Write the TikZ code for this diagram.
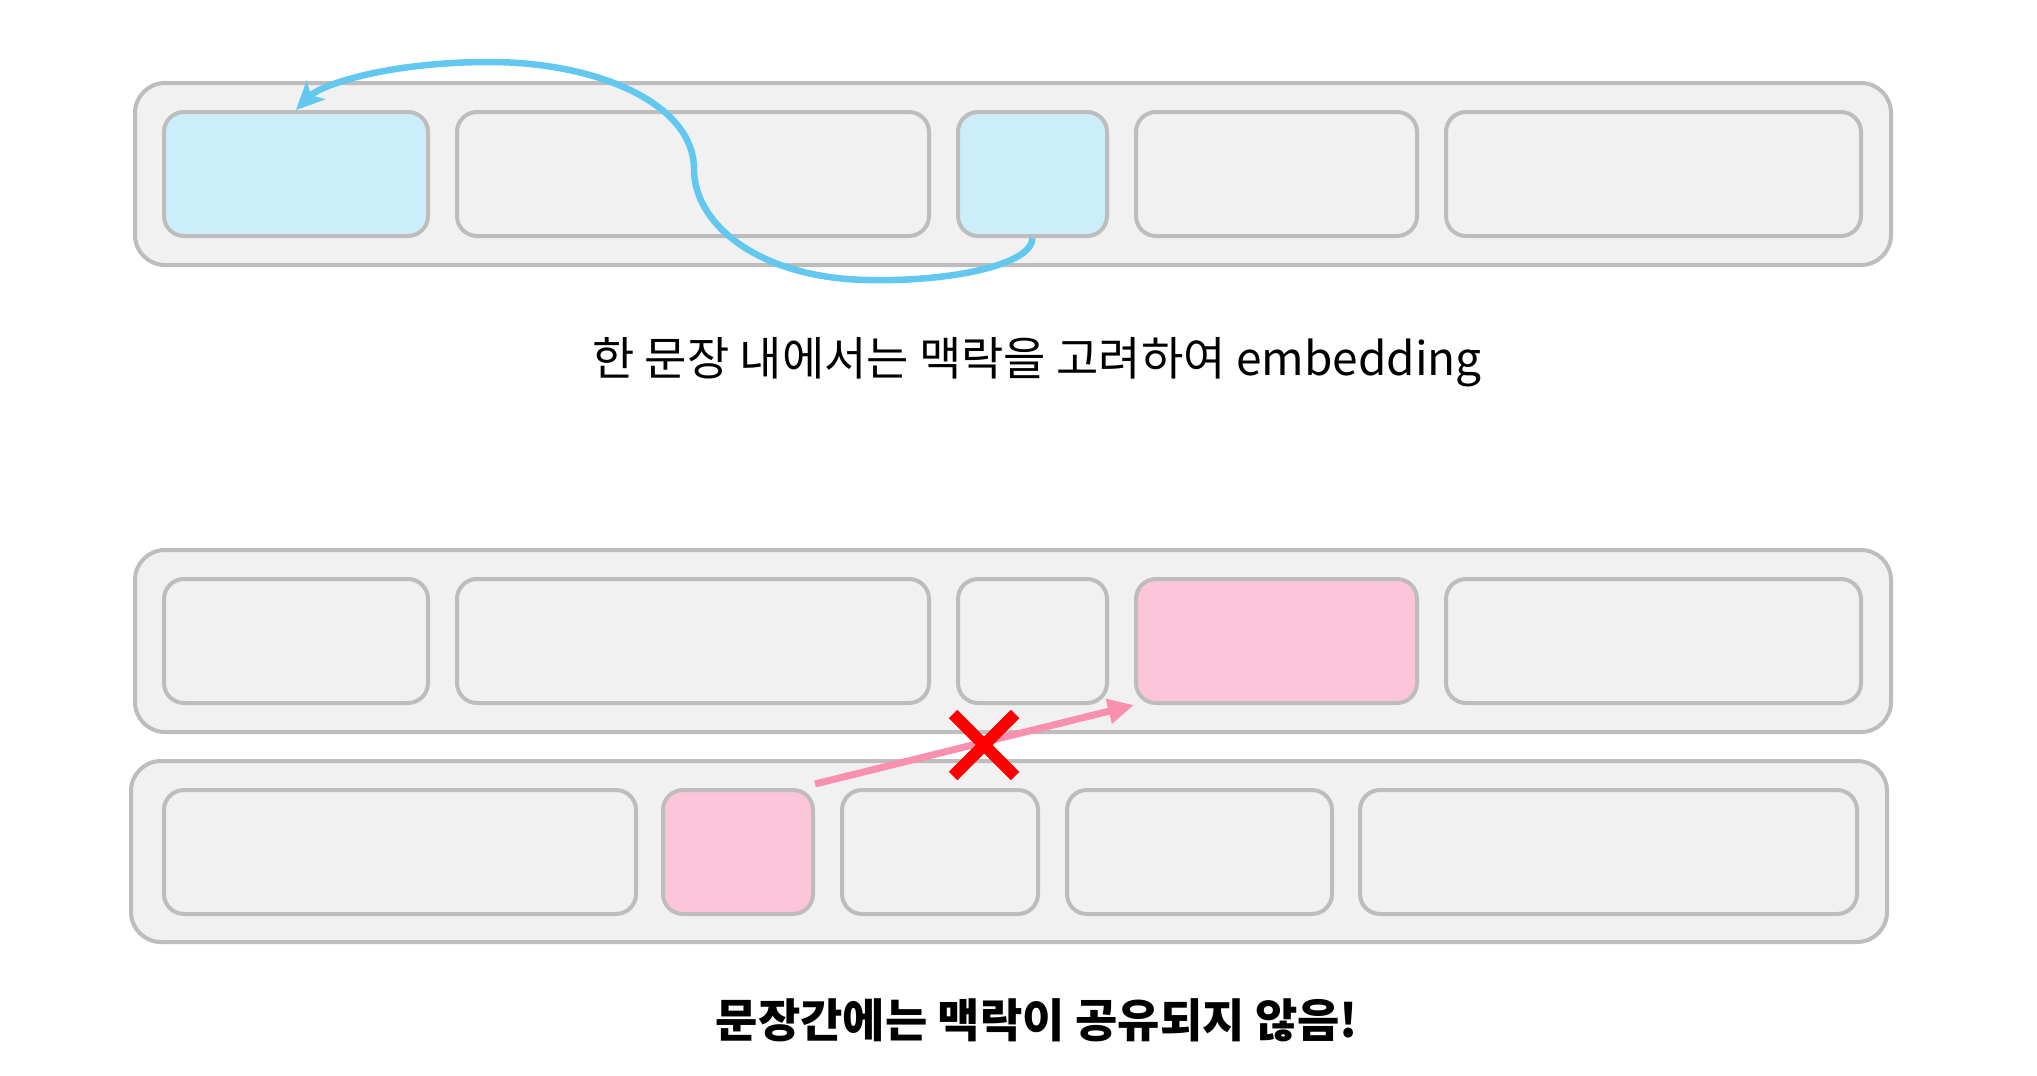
\documentclass[tikz,border=0pt]{standalone}
\usepackage{fontspec}
\setmainfont{Noto Sans CJK KR}
\usetikzlibrary{arrows.meta}
\definecolor{boxfill}{HTML}{F1F1F1}
\definecolor{boxline}{HTML}{BDBDBD}
\definecolor{tokblue}{HTML}{CCEEFB}
\definecolor{tokpink}{HTML}{FDC5DA}
\definecolor{curveblue}{HTML}{62C8F0}
\definecolor{arrowpink}{HTML}{F890AE}
\definecolor{xred}{HTML}{FF0000}
\begin{document}
\begin{tikzpicture}[x=1pt,y=-1pt,
  outerbox/.style={draw=boxline, fill=boxfill, line width=4pt, rounded corners=30pt, inner sep=0pt, minimum height=182pt},
  tok/.style={draw=boxline, fill=boxfill, line width=4pt, rounded corners=20pt, inner sep=0pt, minimum height=124pt},
  blu/.style={fill=tokblue},
  pnk/.style={fill=tokpink},
  caption/.style={font=\fontsize{46}{55}\selectfont, inner sep=0pt, anchor=center}
]
\useasboundingbox (0,0) rectangle (2037,1076);
\fill[white] (0,0) rectangle (2037,1076);

% ---- top sentence
\node[outerbox, minimum width=1756pt] (top) at (1013,174) {};
\node[tok, blu, minimum width=264pt] (t1) at (296,174) {};
\node[tok, minimum width=472pt] (t2) at (693,174) {};
\node[tok, blu, minimum width=149pt] (t3) at (1032.5,174) {};
\node[tok, minimum width=281pt] (t4) at (1276.5,174) {};
\node[tok, minimum width=415pt] (t5) at (1653.5,174) {};

\draw[curveblue, line width=6.5pt, -{Stealth[length=28pt,width=26pt,inset=7pt]}]
  (t3.south) .. controls (1032,265) and (950,282) .. (867,280)
  .. controls (760,278) and (694,225) .. (694,169)
  .. controls (694,105) and (600,62) .. (489,62)
  .. controls (390,62) and (322,84) .. (t1.north);

\node[caption] (cap1) at (1037,362) {한 문장 내에서는 맥락을 고려하여 embedding};

% ---- middle sentence
\node[outerbox, minimum width=1756pt] (mid) at (1013,641) {};
\node[tok, minimum width=264pt] (m1) at (296,641) {};
\node[tok, minimum width=472pt] (m2) at (693,641) {};
\node[tok, minimum width=149pt] (m3) at (1032.5,641) {};
\node[tok, pnk, minimum width=281pt] (m4) at (1276.5,641) {};
\node[tok, minimum width=415pt] (m5) at (1653.5,641) {};

% ---- lower sentence
\node[outerbox, minimum width=1756pt, minimum height=181pt] (low) at (1009,851.5) {};
\node[tok, minimum width=472pt] (l1) at (400,852) {};
\node[tok, pnk, minimum width=150pt] (l2) at (738,852) {};
\node[tok, minimum width=196pt] (l3) at (940,852) {};
\node[tok, minimum width=265pt] (l4) at (1199.5,852) {};
\node[tok, minimum width=497pt] (l5) at (1608.5,852) {};

\draw[arrowpink, line width=7pt, -{Triangle[length=26pt,width=24pt]}]
  ([yshift=4pt]l2.north east) -- (m4.south west);

\coordinate (xc) at (984,745);
\draw[xred, line width=12pt] ([shift={(-31,-31)}]xc) -- ([shift={(31,31)}]xc);
\draw[xred, line width=12pt] ([shift={(31,-31)}]xc) -- ([shift={(-31,31)}]xc);

\node[caption, font=\fontsize{46}{55}\selectfont\bfseries] (cap2) at (1037,1020) {문장간에는 맥락이 공유되지 않음!};
\end{tikzpicture}
\end{document}
